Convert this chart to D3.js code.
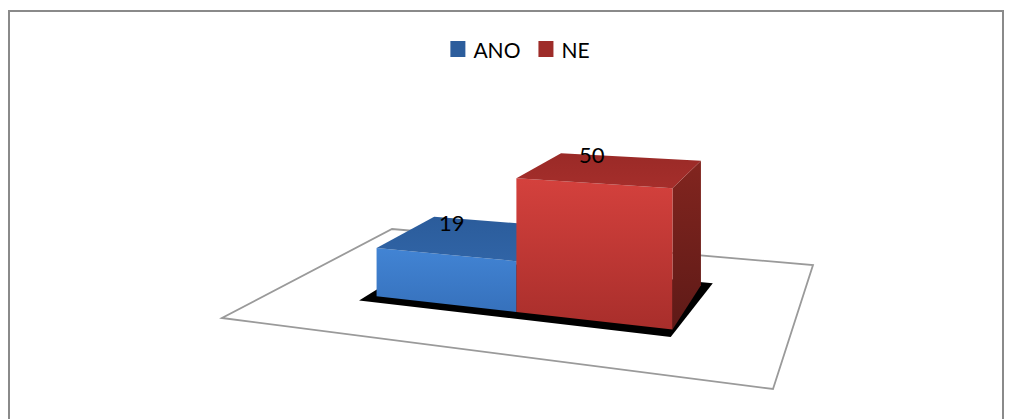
<!DOCTYPE html>
<html>
<head>
<meta charset="utf-8">
<script src="https://cdn.jsdelivr.net/npm/d3@7"></script>
<style>
  html, body { margin: 0; padding: 0; background: #fff; }
  svg { display: block; }
</style>
</head>
<body>
<svg id="chart" width="1011" height="419"></svg>
<script>
// ---- data ----
const series = ["ANO", "NE"];
const values = [19, 50];
const valueDomain = [0, 60];

// ---- styling ----
const faceColors = {
  ANO: { front: ["#4284d4", "#3671bc"], top: ["#2b5c9b", "#3064a6"], side: ["#24508a", "#1d4170"], key: "#2c5d9c" },
  NE:  { front: ["#d4413d", "#a82e2b"], top: ["#9a2a27", "#a52e2b"], side: ["#82251f", "#5e1a17"], key: "#9e2c29" }
};
const fontFamily = "Lato, 'Open Sans', sans-serif";

const width = 1011, height = 419;
const svg = d3.select("#chart");
const defs = svg.append("defs");

// outer chart border
svg.append("rect")
  .attr("x", 9).attr("y", 11)
  .attr("width", 994).attr("height", 430)
  .attr("fill", "none")
  .attr("stroke", "#8a8a8a")
  .attr("stroke-width", 2);

// ---- 3D floor projection ----
// floor plane corners on screen: front-left, front-right, back-right, back-left
const floorCorners = [[222, 318], [773, 389], [813, 265], [392, 229]];

function quadMap([p0, p1, p2, p3]) {
  const dx1 = p1[0] - p2[0], dx2 = p3[0] - p2[0], dx3 = p0[0] - p1[0] + p2[0] - p3[0];
  const dy1 = p1[1] - p2[1], dy2 = p3[1] - p2[1], dy3 = p0[1] - p1[1] + p2[1] - p3[1];
  const det = dx1 * dy2 - dx2 * dy1;
  const g = (dx3 * dy2 - dx2 * dy3) / det;
  const h = (dx1 * dy3 - dx3 * dy1) / det;
  return {
    a: p1[0] - p0[0] + g * p1[0], b: p3[0] - p0[0] + h * p3[0], c: p0[0],
    d: p1[1] - p0[1] + g * p1[1], e: p3[1] - p0[1] + h * p3[1], f: p0[1],
    g, h
  };
}
const H = quadMap(floorCorners);

// category axis runs along u (0..1), depth along v (0..1), values upward
const u = d3.scaleBand().domain(series).range([0, 1])
  .paddingInner(0).paddingOuter(0.7).align(0.52);
const zScale = d3.scaleLinear().domain(valueDomain).range([0, 160.7]);
const depth = [0.3, 0.69];

function project(pu, pv, val) {
  const w = H.g * pu + H.h * pv + 1;
  return [
    (H.a * pu + H.b * pv + H.c) / w,
    (H.d * pu + H.e * pv + H.f - zScale(val)) / w
  ];
}
const line = d3.line();
const poly = pts => line(pts.map(p => project(...p))) + "Z";

// floor outline
svg.append("path")
  .attr("d", poly([[0, 0, 0], [1, 0, 0], [1, 1, 0], [0, 1, 0]]))
  .attr("fill", "none")
  .attr("stroke", "#9a9a9a")
  .attr("stroke-width", 1.8)
  .attr("stroke-linejoin", "miter");

// shadow under the bars
const blur = defs.append("filter").attr("id", "soft")
  .attr("x", "-10%").attr("y", "-10%").attr("width", "120%").attr("height", "120%");
blur.append("feGaussianBlur").attr("stdDeviation", 0.7);

const uMin = u(series[0]), uMax = u(series[series.length - 1]) + u.bandwidth();
svg.append("path")
  .attr("d", poly([
    [uMin - 0.02, depth[0] - 0.05, 0], [uMax + 0.005, depth[0] - 0.055, 0],
    [uMax + 0.02, depth[1] + 0.03, 0], [uMin - 0.02, depth[1] + 0.03, 0]
  ]))
  .attr("fill", "#000")
  .attr("filter", "url(#soft)");

// gradients for faces
function gradient(id, [c0, c1], x2 = 0, y2 = 1) {
  const lg = defs.append("linearGradient").attr("id", id)
    .attr("x1", 0).attr("y1", 0).attr("x2", x2).attr("y2", y2);
  lg.append("stop").attr("offset", "0%").attr("stop-color", c0);
  lg.append("stop").attr("offset", "100%").attr("stop-color", c1);
  return `url(#${id})`;
}

// ---- bars ----
const bars = series.map((s, i) => ({ name: s, value: values[i] }));
const barG = svg.append("g");
bars.forEach((bar, i) => {
  const u0 = u(bar.name), u1 = u0 + u.bandwidth();
  const [v0, v1] = depth;
  const z = bar.value;
  const col = faceColors[bar.name];
  const g = barG.append("g");
  g.append("path")
    .attr("d", poly([[u1, v0, 0], [u1, v1, 0], [u1, v1, z], [u1, v0, z]]))
    .attr("fill", gradient(`side${i}`, col.side));
  g.append("path")
    .attr("d", poly([[u0, v0, 0], [u1, v0, 0], [u1, v0, z], [u0, v0, z]]))
    .attr("fill", gradient(`front${i}`, col.front));
  g.append("path")
    .attr("d", poly([[u0, v0, z], [u1, v0, z], [u1, v1, z], [u0, v1, z]]))
    .attr("fill", gradient(`top${i}`, col.top));
});

// ---- value labels ----
svg.append("g").selectAll("text")
  .data(bars)
  .join("text")
  .attr("x", d => project(u(d.name) + u.bandwidth() / 2, (depth[0] + depth[1]) / 2, d.value)[0] - 20)
  .attr("y", d => project(u(d.name) + u.bandwidth() / 2, (depth[0] + depth[1]) / 2, d.value)[1] - 6)
  .attr("text-anchor", "middle")
  .attr("font-family", fontFamily)
  .attr("font-size", 22)
  .attr("fill", "#000")
  .text(d => d.value);

// ---- legend ----
const keySize = 15, keyGap = 8, itemGap = 18, legendCenter = 520, legendBaseline = 58;
const legend = svg.append("g");
const items = legend.selectAll("g").data(series).join("g");
items.append("rect")
  .attr("width", keySize).attr("height", 16)
  .attr("y", legendBaseline - 17)
  .attr("fill", d => faceColors[d].key);
items.append("text")
  .attr("x", keySize + keyGap)
  .attr("y", legendBaseline)
  .attr("font-family", fontFamily)
  .attr("font-size", 21)
  .attr("fill", "#000")
  .text(d => d);
let offset = 0;
const widths = [];
items.each(function () {
  const tw = d3.select(this).select("text").node().getComputedTextLength();
  widths.push(keySize + keyGap + tw);
});
const total = d3.sum(widths) + itemGap * (widths.length - 1);
items.attr("transform", (d, i) => {
  const x = legendCenter - total / 2 + offset;
  offset += widths[i] + itemGap;
  return `translate(${x},0)`;
});
</script>
</body>
</html>
